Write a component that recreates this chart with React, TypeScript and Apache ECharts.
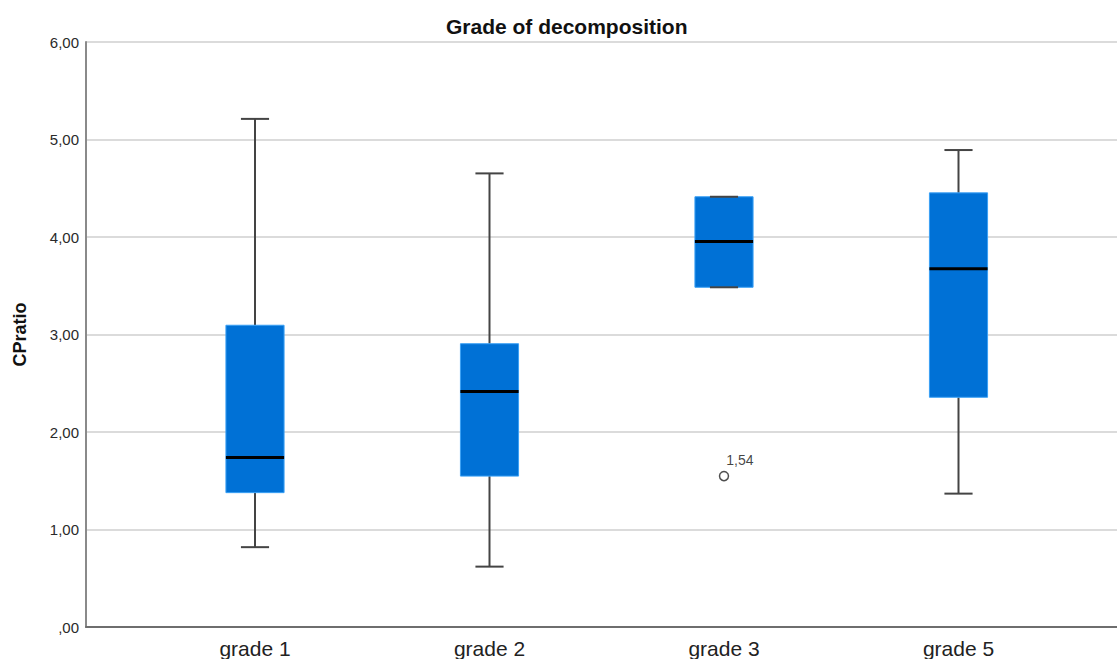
import React, { useEffect, useRef } from "react";
import * as echarts from "echarts";

const categories = ["grade 1", "grade 2", "grade 3", "grade 5"];
// [min, Q1, median, Q3, max]
const boxValues = [
  [0.81, 1.37, 1.73, 3.09, 5.21],
  [0.61, 1.54, 2.41, 2.9, 4.65],
  [3.48, 3.48, 3.95, 4.41, 4.41],
  [1.36, 2.35, 3.67, 4.45, 4.89],
];
const outliers = [[2, 1.54]];
const outlierLabels = ["1,54"];
const yTickLabels = [",00", "1,00", "2,00", "3,00", "4,00", "5,00", "6,00"];

const FONT = "'Liberation Sans', Arial, sans-serif";

export default function App() {
  const ref = useRef<HTMLDivElement>(null);
  useEffect(() => {
    if (!ref.current) return;
    const chart = echarts.init(ref.current, undefined, { renderer: "svg" });
    const boxData = boxValues.map((v, i) => [i, ...v]);
    chart.setOption({
      animation: false,
      backgroundColor: "#ffffff",
      textStyle: { fontFamily: FONT },
      title: {
        text: "Grade of decomposition",
        left: 441,
        top: 11,
        textStyle: { fontSize: 21, fontWeight: "bold", color: "#111", fontFamily: FONT },
      },
      grid: [
        { left: 86, right: 0, top: 42, bottom: 32 },
        { left: 137.75, width: 938, top: 42, bottom: 32 },
      ],
      xAxis: [
        {
          type: "category",
          gridIndex: 0,
          data: [""],
          axisLine: { show: true, lineStyle: { color: "#6e6e6e", width: 2 } },
          axisTick: { show: false },
          axisLabel: { show: false },
          splitLine: { show: false },
        },
        {
          type: "category",
          gridIndex: 1,
          data: categories,
          axisLine: { show: false },
          axisTick: { show: false },
          axisLabel: { fontSize: 21, color: "#222", margin: 12, fontFamily: FONT },
        },
      ],
      yAxis: [
        {
          type: "value",
          gridIndex: 0,
          min: 0,
          max: 6,
          interval: 1,
          name: "CPratio",
          nameLocation: "middle",
          nameGap: 57,
          nameTextStyle: { fontSize: 18, fontWeight: "bold", color: "#111", fontFamily: FONT },
          axisLine: { show: true, lineStyle: { color: "#8a8a8a", width: 2 } },
          axisTick: { show: false },
          axisLabel: {
            fontSize: 15,
            color: "#2a2a2a",
            margin: 7,
            fontFamily: FONT,
            formatter: (v: number) => yTickLabels[Math.round(v)] ?? "",
          },
          splitLine: { show: true, lineStyle: { color: "#cfcfcf", width: 1.5 } },
        },
        { type: "value", gridIndex: 1, min: 0, max: 6, show: false },
      ],
      series: [
        {
          type: "custom",
          xAxisIndex: 1,
          yAxisIndex: 1,
          data: boxData,
          encode: { x: 0, y: [1, 2, 3, 4, 5] },
          renderItem: (_params: any, api: any) => {
            const x = api.value(0);
            const lo = api.coord([x, api.value(1)]);
            const q1 = api.coord([x, api.value(2)]);
            const med = api.coord([x, api.value(3)]);
            const q3 = api.coord([x, api.value(4)]);
            const hi = api.coord([x, api.value(5)]);
            const band = api.size([1, 0])[0];
            const bw = band * 0.248;
            const cw = band * 0.12;
            const cx = lo[0];
            const wStyle = { stroke: "#444", lineWidth: 2 };
            return {
              type: "group",
              children: [
                { type: "line", shape: { x1: cx, y1: q3[1], x2: cx, y2: hi[1] }, style: wStyle },
                { type: "line", shape: { x1: cx, y1: q1[1], x2: cx, y2: lo[1] }, style: wStyle },
                {
                  type: "rect",
                  shape: { x: cx - bw / 2, y: q3[1], width: bw, height: q1[1] - q3[1] },
                  style: { fill: "#0071d6", stroke: "#3aa0f5", lineWidth: 1 },
                },
                { type: "line", shape: { x1: cx - cw / 2, y1: hi[1], x2: cx + cw / 2, y2: hi[1] }, style: { stroke: "#444", lineWidth: 2 } },
                { type: "line", shape: { x1: cx - cw / 2, y1: lo[1], x2: cx + cw / 2, y2: lo[1] }, style: { stroke: "#444", lineWidth: 2 } },
                { type: "line", shape: { x1: cx - bw / 2, y1: med[1], x2: cx + bw / 2, y2: med[1] }, style: { stroke: "#000", lineWidth: 3 } },
              ],
            };
          },
        },
        {
          type: "scatter",
          xAxisIndex: 1,
          yAxisIndex: 1,
          data: outliers,
          symbol: "circle",
          symbolSize: 9,
          itemStyle: { color: "#ffffff", borderColor: "#222", borderWidth: 1.5 },
          label: {
            show: true,
            position: [7.5, -17.5],
            fontSize: 14,
            color: "#111",
            fontFamily: FONT,
            formatter: (p: any) => outlierLabels[p.dataIndex],
          },
        },
      ],
    });
    return () => chart.dispose();
  }, []);
  return (
    <div
      ref={ref}
      style={{ position: "fixed", left: 0, top: 0, width: 1117, height: 659 }}
    />
  );
}
